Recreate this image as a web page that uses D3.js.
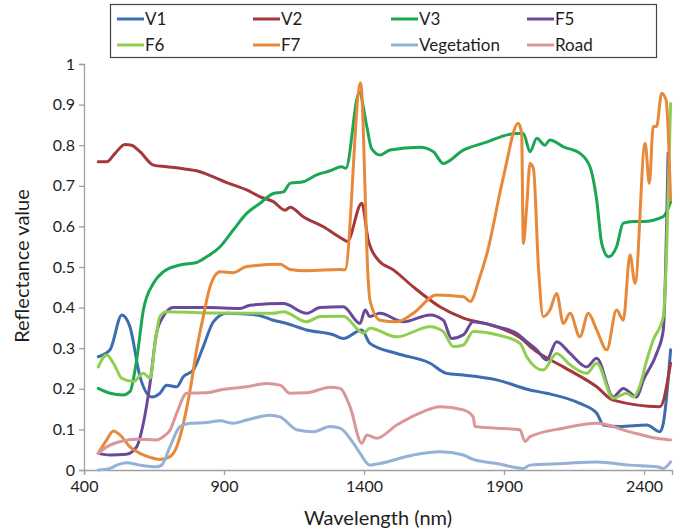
<!DOCTYPE html>
<html>
<head>
<meta charset="utf-8">
<script src="https://cdn.jsdelivr.net/npm/d3@7"></script>
<style>
  html, body { margin: 0; padding: 0; background: #fff; }
  svg { display: block; }
  text { font-family: Lato, "Open Sans", sans-serif; fill: #1e1e1e; }
</style>
</head>
<body>
<svg id="chart" width="681" height="531"></svg>
<script>
// ---- data (wavelength nm, reflectance) ----
const seriesNames = ["V1", "V2", "V3", "F5", "F6", "F7", "Vegetation", "Road"];
const xTicks = [400, 900, 1400, 1900, 2400];
const yTicks = [0, 0.1, 0.2, 0.3, 0.4, 0.5, 0.6, 0.7, 0.8, 0.9, 1];

const V1 = [[451,0.279],[493,0.296],[535,0.382],[564,0.353],[600,0.23],[642,0.18],[671,0.189],[695,0.209],[731,0.205],[755,0.23],[790,0.246],[826,0.304],[862,0.365],[910,0.386],[1017,0.382],[1076,0.369],[1124,0.361],[1195,0.345],[1290,0.333],[1326,0.324],[1392,0.345],[1421,0.312],[1517,0.287],[1636,0.263],[1695,0.238],[1754,0.234],[1874,0.222],[1993,0.197],[2052,0.189],[2171,0.164],[2231,0.14],[2255,0.111],[2314,0.107],[2410,0.111],[2457,0.094],[2469,0.115],[2495,0.296]];
const V2 = [[451,0.759],[481,0.759],[511,0.78],[546,0.802],[570,0.8],[600,0.784],[648,0.751],[695,0.747],[743,0.743],[802,0.737],[862,0.722],[910,0.708],[981,0.69],[1029,0.673],[1076,0.661],[1118,0.64],[1136,0.647],[1183,0.624],[1255,0.599],[1326,0.568],[1340,0.563],[1392,0.657],[1415,0.567],[1451,0.517],[1505,0.493],[1576,0.451],[1671,0.402],[1755,0.374],[1874,0.353],[1969,0.32],[2000,0.3],[2112,0.254],[2231,0.205],[2290,0.172],[2457,0.156],[2495,0.263]];
const V3 = [[451,0.201],[493,0.189],[540,0.185],[564,0.193],[588,0.271],[612,0.394],[648,0.46],[683,0.488],[743,0.505],[802,0.511],[838,0.525],[886,0.55],[933,0.591],[981,0.632],[1029,0.657],[1076,0.681],[1112,0.685],[1136,0.706],[1183,0.71],[1231,0.727],[1279,0.737],[1320,0.747],[1335,0.743],[1383,0.93],[1410,0.846],[1427,0.792],[1457,0.776],[1493,0.788],[1600,0.795],[1648,0.784],[1683,0.755],[1755,0.788],[1826,0.805],[1945,0.829],[1969,0.829],[1993,0.784],[2017,0.817],[2046,0.8],[2064,0.813],[2112,0.796],[2171,0.78],[2207,0.747],[2231,0.665],[2249,0.558],[2273,0.525],[2302,0.55],[2326,0.608],[2362,0.612],[2398,0.612],[2469,0.624],[2495,0.66]];
const F5 = [[451,0.041],[493,0.037],[552,0.039],[588,0.057],[612,0.115],[636,0.214],[659,0.337],[683,0.378],[719,0.4],[838,0.4],[957,0.398],[993,0.406],[1112,0.41],[1195,0.386],[1243,0.4],[1326,0.402],[1386,0.361],[1404,0.394],[1421,0.378],[1457,0.386],[1540,0.365],[1636,0.382],[1683,0.369],[1713,0.324],[1755,0.333],[1790,0.365],[1874,0.353],[1945,0.337],[1981,0.316],[2017,0.296],[2052,0.271],[2088,0.316],[2136,0.287],[2195,0.254],[2231,0.275],[2290,0.18],[2326,0.201],[2374,0.18],[2398,0.222],[2445,0.287],[2469,0.345],[2486,0.78]];
const F6 = [[451,0.254],[481,0.283],[505,0.263],[535,0.226],[576,0.218],[612,0.238],[636,0.226],[654,0.312],[671,0.378],[695,0.39],[838,0.387],[1076,0.386],[1112,0.39],[1195,0.365],[1243,0.378],[1326,0.379],[1398,0.337],[1421,0.349],[1517,0.328],[1636,0.353],[1683,0.341],[1719,0.304],[1755,0.308],[1790,0.341],[1874,0.333],[1957,0.312],[1981,0.279],[2040,0.246],[2088,0.287],[2136,0.259],[2195,0.238],[2231,0.263],[2290,0.177],[2338,0.189],[2362,0.18],[2386,0.209],[2410,0.271],[2433,0.32],[2469,0.378],[2481,0.542],[2495,0.903]];
const F7 = [[451,0.041],[481,0.074],[505,0.096],[529,0.086],[564,0.057],[600,0.041],[636,0.031],[671,0.026],[707,0.033],[731,0.057],[755,0.115],[779,0.197],[802,0.296],[826,0.378],[850,0.451],[886,0.488],[933,0.486],[981,0.501],[1100,0.507],[1136,0.494],[1195,0.491],[1314,0.494],[1332,0.493],[1388,0.954],[1415,0.468],[1421,0.419],[1457,0.369],[1517,0.365],[1576,0.386],[1659,0.431],[1755,0.427],[1779,0.415],[1814,0.476],[1838,0.53],[1898,0.722],[1951,0.854],[1963,0.829],[1969,0.558],[1981,0.649],[1993,0.755],[2005,0.743],[2023,0.5],[2040,0.378],[2064,0.394],[2088,0.435],[2112,0.361],[2136,0.386],[2171,0.328],[2201,0.386],[2231,0.345],[2267,0.296],[2302,0.394],[2326,0.369],[2350,0.53],[2368,0.46],[2404,0.805],[2419,0.706],[2433,0.846],[2445,0.846],[2463,0.928],[2479,0.911],[2495,0.665]];
const Vegetation = [[451,0],[493,0.004],[517,0.012],[552,0.018],[600,0.012],[659,0.008],[677,0.012],[707,0.057],[743,0.107],[779,0.115],[838,0.117],[886,0.121],[933,0.115],[981,0.123],[1064,0.135],[1100,0.131],[1160,0.099],[1219,0.094],[1279,0.107],[1314,0.103],[1362,0.066],[1386,0.041],[1421,0.012],[1457,0.016],[1576,0.037],[1671,0.045],[1755,0.037],[1790,0.026],[1874,0.016],[1969,0.004],[1993,0.012],[2112,0.016],[2231,0.02],[2350,0.012],[2445,0.008],[2469,0.004],[2495,0.02]];
const Road = [[451,0.041],[481,0.057],[529,0.07],[588,0.076],[659,0.074],[683,0.082],[707,0.098],[731,0.14],[767,0.189],[838,0.19],[886,0.197],[981,0.205],[1052,0.213],[1100,0.209],[1136,0.189],[1195,0.19],[1279,0.204],[1314,0.201],[1350,0.156],[1392,0.066],[1410,0.086],[1445,0.078],[1517,0.111],[1612,0.144],[1671,0.156],[1755,0.148],[1790,0.131],[1796,0.107],[1874,0.103],[1957,0.099],[1975,0.07],[1993,0.082],[2112,0.103],[2231,0.115],[2350,0.094],[2445,0.078],[2495,0.074]];

const seriesData = [V1, V2, V3, F5, F6, F7, Vegetation, Road];
const colors = ["#3D6DAE", "#A3393B", "#1BA653", "#6A4A98", "#8ECF52", "#E8893A", "#95B1D8", "#D9979A"];

// ---- layout ----
const svg = d3.select("#chart");
const x = d3.scaleLinear().domain([400, 2500]).range([84, 672]);
const y = d3.scaleLinear().domain([0, 1]).range([470, 64]);

// axes
const axisColor = "#A0A0A0";
const gx = svg.append("g").attr("transform", `translate(0,${y(0)})`)
  .call(d3.axisBottom(x).tickValues(xTicks).tickSizeOuter(0).tickSize(5).tickPadding(6).tickFormat(d => String(d)));
const gy = svg.append("g").attr("transform", `translate(${x(400)},0)`)
  .call(d3.axisLeft(y).tickValues(yTicks).tickSizeOuter(0).tickSize(5).tickPadding(4).tickFormat(d => String(d)));
[gx, gy].forEach(g => {
  g.select(".domain").attr("stroke", axisColor).attr("stroke-width", 1.3);
  g.selectAll(".tick line").attr("stroke", axisColor).attr("stroke-width", 1.3);
  g.selectAll(".tick text").attr("fill", "#1e1e1e").style("font-size", "16px").style("font-family", "Lato, 'Open Sans', sans-serif");
});

// lines
const line = d3.line().x(d => x(d[0])).y(d => y(d[1])).curve(d3.curveMonotoneX);
svg.append("g").selectAll("path").data(seriesData).join("path")
  .attr("d", d => line(d))
  .attr("fill", "none")
  .attr("stroke", (d, i) => colors[i])
  .attr("stroke-width", 3)
  .attr("stroke-linejoin", "round")
  .attr("stroke-linecap", "round");

// axis titles
svg.append("text").attr("x", 378).attr("y", 525).attr("text-anchor", "middle")
  .style("font-size", "20px").text("Wavelength (nm)");
svg.append("text").attr("transform", "translate(29,266) rotate(-90)").attr("text-anchor", "middle")
  .style("font-size", "20px").text("Reflectance value");

// legend
const lg = svg.append("g");
lg.append("rect").attr("x", 110.5).attr("y", 4.5).attr("width", 546).attr("height", 53)
  .attr("fill", "#fff").attr("stroke", "#444").attr("stroke-width", 1.2);
const colX = [117, 253, 391, 527];
const rowY = [19, 45];
seriesNames.forEach((name, i) => {
  const cx = colX[i % 4], cy = rowY[Math.floor(i / 4)];
  lg.append("line").attr("x1", cx).attr("x2", cx + 27).attr("y1", cy).attr("y2", cy)
    .attr("stroke", colors[i]).attr("stroke-width", 3);
  lg.append("text").attr("x", cx + 28).attr("y", cy + 6).style("font-size", "17px").text(name);
});
</script>
</body>
</html>
